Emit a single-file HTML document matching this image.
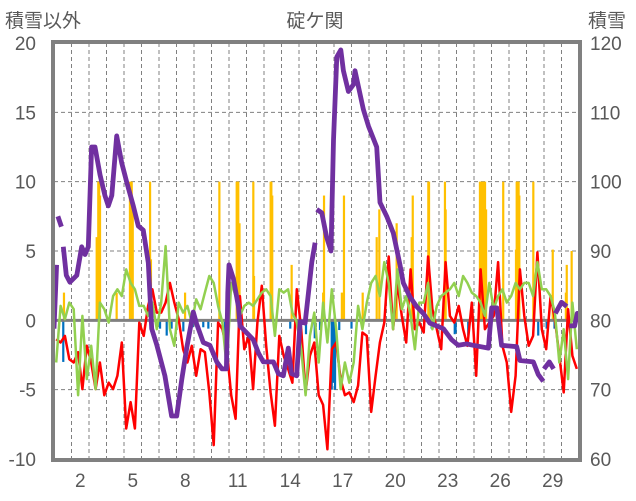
<!DOCTYPE html>
<html><head><meta charset="utf-8"><style>
body{margin:0;background:#fff;}
svg{display:block;font-family:"Liberation Sans","Noto Sans CJK JP",sans-serif;}
</style></head><body>
<svg id="chart" width="636" height="501">
<text x="5" y="27" font-size="19" fill="#595959">積雪以外</text>
<text x="315" y="27" font-size="19" fill="#595959" text-anchor="middle">碇ケ関</text>
<text x="588" y="27" font-size="19" fill="#595959">積雪</text>
<g id="grid"></g><g id="bars"></g><g id="lines"></g><g id="axes"></g>
</svg>
<script>
const leftTicks=[20,15,10,5,0,-5,-10];
const rightTicks=[120,110,100,90,80,70,60];
const dayLabels=[2,5,8,11,14,17,20,23,26,29];
const redVals=[-1.36,-1.6,-1.12,-2.8,-3.04,-2.3,-4.96,-1.84,-3.04,-4.96,-3.04,-5.4,-4.5,-4.96,-4.0,-1.6,-7.8,-5.9,-7.8,-0.16,-1.12,1.04,2.24,0.56,0.56,1.28,2.7,1.28,0.08,-2.08,-3.04,-1.84,-4.0,-2.08,-2.3,-5.2,-9.0,-0.16,-0.64,-2.08,-5.4,-7.1,1.75,-2.08,-1.12,-4.96,-0.16,2.5,-1.84,-5.2,-7.6,-1.12,-2.56,-3.5,-4.5,2.24,-0.64,-5.2,-2.56,-1.6,-5.4,-6.1,-9.3,-2.08,-1.6,-4.24,-5.4,-5.2,-5.9,-4.7,-0.88,-1.12,-6.6,-4.0,-1.6,-0.16,4.6,-0.64,2.7,0.32,-1.6,3.67,-0.64,-0.16,-0.88,4.6,0.8,-0.64,-2.08,4.2,0.32,-0.16,1.04,-0.64,-1.84,1.28,-4.0,3.67,-0.64,-0.16,0.32,4.2,-1.84,-3.04,-6.6,-4.0,3.67,0.32,-1.84,-1.12,4.9,-0.64,-2.08,1.75,0.08,-2.56,-5.2,0.8,-2.56,-3.5];
const greenVals=[-3.04,1.04,0.08,1.28,0.8,-5.4,0.32,-4.24,-1.84,-4.96,1.28,0.8,-0.16,1.75,2.24,1.75,3.67,2.7,2.24,1.04,1.04,0.32,1.28,-0.64,1.28,5.35,-0.64,-1.84,1.28,0.56,1.04,-0.16,1.52,0.8,2.0,3.2,2.7,1.04,-0.16,-3.5,2.7,1.75,0.32,1.04,1.28,1.04,1.52,2.0,2.24,1.75,-1.12,2.24,2.0,2.24,0.56,-0.16,-2.08,-5.4,-1.12,0.56,-3.04,1.28,-1.6,2.24,-0.64,-4.96,-3.04,-4.5,-3.04,1.04,-0.64,1.28,2.7,3.2,1.75,4.2,2.7,-0.64,3.67,0.8,1.75,0.32,-2.08,1.28,1.28,2.7,-0.64,1.04,1.75,2.0,2.24,2.7,1.75,3.2,2.7,2.0,1.75,1.28,0.32,2.7,0.8,1.75,2.24,1.28,1.75,2.7,2.24,2.7,2.7,1.75,4.2,2.24,2.24,1.75,0.56,-3.04,-0.64,-4.24,1.28,-2.08];
const snowDays=[0,0.15,null,0.22,0.42,null,0.53,0.7,0.91,1.3,1.58,1.77,1.96,2.15,2.34,2.63,2.91,3.1,3.3,3.58,3.87,4.15,4.53,4.82,5.1,5.39,5.58,5.87,6.34,6.72,7.01,7.3,7.58,7.96,8.15,8.53,8.91,9.3,9.6,9.85,9.93,10.0,10.25,10.54,10.63,11.01,11.39,11.68,11.96,12.54,12.82,13.1,13.39,13.58,13.87,14.06,14.35,14.54,14.73,14.92,null,15.01,15.3,15.58,15.83,15.97,16.16,16.39,16.54,16.82,17.11,17.2,17.68,17.97,18.44,18.63,19.01,19.39,19.77,19.96,20.34,20.72,21.1,21.48,21.86,22.25,22.72,23.1,23.58,23.96,24.82,25.01,25.3,25.58,26.44,26.63,27.39,27.67,27.96,null,28.0,28.3,28.55,null,28.65,29.0,29.3,null,29.45,29.75,29.9,30];
const snowVals=[78.8,88,null,95,93.5,null,90.6,86.5,85.5,86.5,90.6,89.5,90.6,105,105,101,98,96.5,98,106.6,102.7,100,96.5,93.6,93,88.3,78.8,76.5,72,66.2,66.2,71.5,76,81.2,79.5,76.8,76.4,74,73,73,84,88,86,82,79.2,78.2,77.2,75.3,74,74,72.3,72,76,72.3,72,79.8,79.6,83.9,88.4,91.2,null,96,95.5,92,90,106,118,119,116,113,114,116,110.4,108,105,97,95,92.6,88,85.4,83.4,82,81,79.6,79.2,78.8,77.2,76.4,76.6,76.4,76,81.8,81.8,76.4,76.2,74.2,74,72.2,71.2,null,73,74,73,null,81,82.6,82,null,79.2,79.2,81,81];
const precipDays=[0.57,2.44,2.53,2.58,2.63,3.58,4.34,4.4,4.44,4.5,5.49,5.54,7.49,9.45,10.44,10.5,10.53,10.6,11.39,11.43,12.38,12.42,12.47,13.58,15.38,15.43,16.45,16.57,17.64,18.44,18.59,19.58,20.44,20.5,21.39,21.43,22.34,22.38,24.34,24.4,24.46,24.52,24.58,24.63,24.69,25.67,26.4,26.44,26.5,26.55,26.59,27.39,28.5,29.25,29.3,29.58];
const precipVals=[2,6,10,10,9,2,10,10,10,8.5,10,4.4,2,10,10,10,10,7,10,3.2,10,10,9,4,2,9,2,9,2,6,8,7,6,9,10,10,10,8,10,10,10,10,10,10,8,10,5.1,10,10,10,9,10,5.1,2,4,5];
const negDays=[0.53,6.06,6.44,6.72,7.0,7.39,7.92,8.53,8.82,9.77,9.87,13.5,14.4,14.9,15.2,15.87,15.95,16.06,16.3,17.0,21.58,22.9,22.95,23.67,27.67,28.15,28.6];
const negVals=[-3,-0.6,-1.1,-0.6,-0.7,-0.8,-0.5,-0.5,-0.6,-2.1,-2,-0.6,-1,-1.3,-0.7,-5,-4.5,-5,-0.7,-0.6,-0.6,-1,-0.9,-1.1,-1.1,-0.6,-0.6];

const X0=54,X1=579,Y0=43,Y1=459,NDAYS=30;
const xD=d=>X0+d*(X1-X0)/NDAYS;
const yL=v=>Y0+(20-v)*(Y1-Y0)/30;
const yR=s=>yL((s-80)/2);
const NS='http://www.w3.org/2000/svg';
function mk(tag,parent,attrs){const e=document.createElementNS(NS,tag);for(const k in attrs)e.setAttribute(k,attrs[k]);document.getElementById(parent).appendChild(e);return e;}

for(let d=1;d<NDAYS;d++){
 const g=mk('line','grid',{x1:xD(d),x2:xD(d),y1:Y0,y2:Y1,stroke:'#808080','stroke-width':1,'stroke-dasharray':'4,3'});
 
 
}
leftTicks.forEach((v,i)=>{
 if(v!==0&&v!==20&&v!==-10){const g=mk('line','grid',{x1:X0,x2:X1,y1:yL(v),y2:yL(v),stroke:'#808080','stroke-width':1,'stroke-dasharray':'4,3'});
 
 }
 const t=mk('text','axes',{x:36,y:yL(v)+7,'font-size':19,fill:'#595959','text-anchor':'end'});t.textContent=v;
 
 
 const r=mk('text','axes',{x:590,y:yL(v)+7,'font-size':19,fill:'#595959'});r.textContent=rightTicks[i];
 
 
});
dayLabels.forEach(d=>{
 const t=mk('text','axes',{x:xD(d-0.5),y:487,'font-size':19,fill:'#595959','text-anchor':'middle'});t.textContent=d;
 
 
});
precipDays.forEach((d,i)=>{
 const b=mk('rect','bars',{x:xD(d)-1.1,y:yL(precipVals[i]),width:2.2,height:yL(0)-yL(precipVals[i]),fill:'#FFC000'});
 
 
});
negDays.forEach((d,i)=>{
 const b=mk('rect','bars',{x:xD(d)-1.1,y:yL(0),width:2.2,height:yL(negVals[i])-yL(0),fill:'#0070C0'});
 
 
});
const zl=mk('line','bars',{x1:X0,x2:X1,y1:yL(0),y2:yL(0),stroke:'#808080','stroke-width':3});


function series(vals,color,w){
 const p=vals.map((v,i)=>(i?'L':'M')+xD((i+0.5)/4).toFixed(1)+','+yL(v).toFixed(1)).join('');
 return mk('path','lines',{d:p,fill:'none',stroke:color,'stroke-width':w,'stroke-linejoin':'round'});
}
const red=series(redVals,'#FF0000',2.5);


const green=series(greenVals,'#92D050',2.5);


let sp='',pen=false;
snowDays.forEach((d,i)=>{
 if(d===null||snowVals[i]===null){pen=false;return;}
 sp+=(pen?'L':'M')+xD(d).toFixed(1)+','+yR(snowVals[i]).toFixed(1);pen=true;
});
const snow=mk('path','lines',{d:sp,fill:'none',stroke:'#7030A0','stroke-width':4.8,'stroke-linejoin':'round'});


const fr=mk('rect','axes',{x:X0-1,y:Y0-1,width:X1-X0+2,height:Y1-Y0+2,fill:'none',stroke:'#808080','stroke-width':4});


</script>
</body></html>
